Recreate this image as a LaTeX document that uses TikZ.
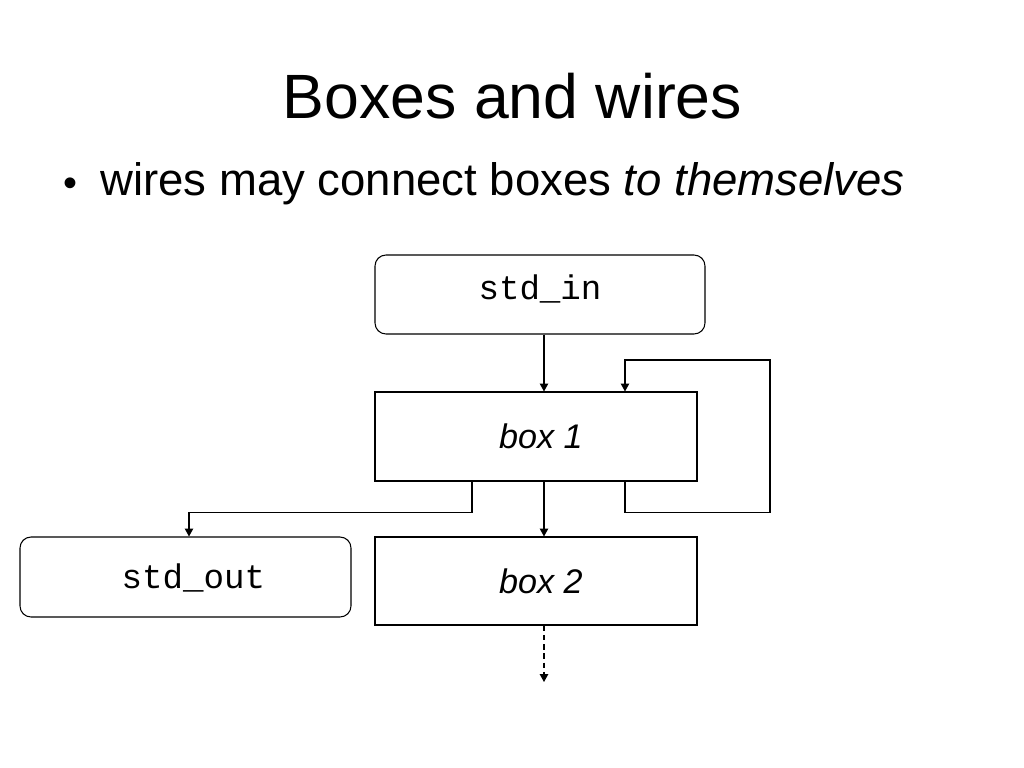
\documentclass[tikz,border=0pt]{standalone}
\usepackage{fontspec}
\setmainfont{Liberation Sans}
\newfontfamily\codefont{Liberation Mono}
\usetikzlibrary{arrows.meta,calc}
\newdimen\pixel
\pixel=0.703pt

\tikzset{
  boxnode/.style={draw,line width=0.75pt,minimum width=322\pixel,minimum height=89\pixel,
    inner sep=0pt,font=\fontsize{24}{28}\selectfont\itshape},
  ionode/.style={boxnode,rounded corners=11\pixel,font=\fontsize{24}{28}\selectfont\codefont},
  nudge/.style={execute at begin node={\hspace*{#1}}},
  wire/.style={line width=0.75pt,-{Triangle[length=5.6pt,width=6pt]}}
}

\begin{document}
\begin{tikzpicture}[x=0.703pt,y=-0.703pt]
\useasboundingbox (0,0) rectangle (1024,768);

% Slide title and bullet.
\node[anchor=base,inner sep=0pt,font=\fontsize{44}{50}\selectfont] (title) at (512.5,118) {Boxes and wires};
\node[anchor=base,inner sep=0pt,font=\fontsize{28}{32}\selectfont] (dot) at (70.7,196) {\textbullet};
\node[anchor=base west,inner sep=0pt,font=\fontsize{32}{36}\selectfont] (point) at (100,195)
  {wires may connect boxes \textit{to themselves}};

% The boxes.
\node[ionode,minimum width=330\pixel,minimum height=79\pixel,text height=8pt,text depth=1.6pt]
  (in) at (540,294.5) {std\_in};
\node[boxnode,nudge=7pt] (b1) at (536,436.5) {box 1};
\node[boxnode,nudge=7pt,minimum height=88\pixel] (b2) at (536,581) {box 2};
\node[ionode,nudge=11pt,minimum width=331\pixel,minimum height=80\pixel,text height=17pt,text depth=0.2pt]
  (out) at (185.5,577) {std\_out};

% Points the wires run through.
\coordinate (spine) at (544,0);
\coordinate (loopR) at (770,0);
\coordinate (loopT) at (625,360);
\coordinate (split) at (0,512.5);
\coordinate (leftT) at (472,0);
\coordinate (outT) at (189,0);
\coordinate (end) at (544,682);

% The wires.
\draw[wire] (in.south -| spine) -- (b1.north -| spine);
\draw[wire] (b1.south -| spine) -- (b2.north -| spine);
\draw[wire] (b1.south -| loopT) |- (split -| loopR) |- (loopT) -- (b1.north -| loopT);
\draw[wire] (b1.south -| leftT) |- (split -| outT) -- (out.north -| outT);
\draw[wire,dash pattern=on 4pt off 2.5pt] (b2.south -| spine) -- (end);

\end{tikzpicture}
\end{document}
